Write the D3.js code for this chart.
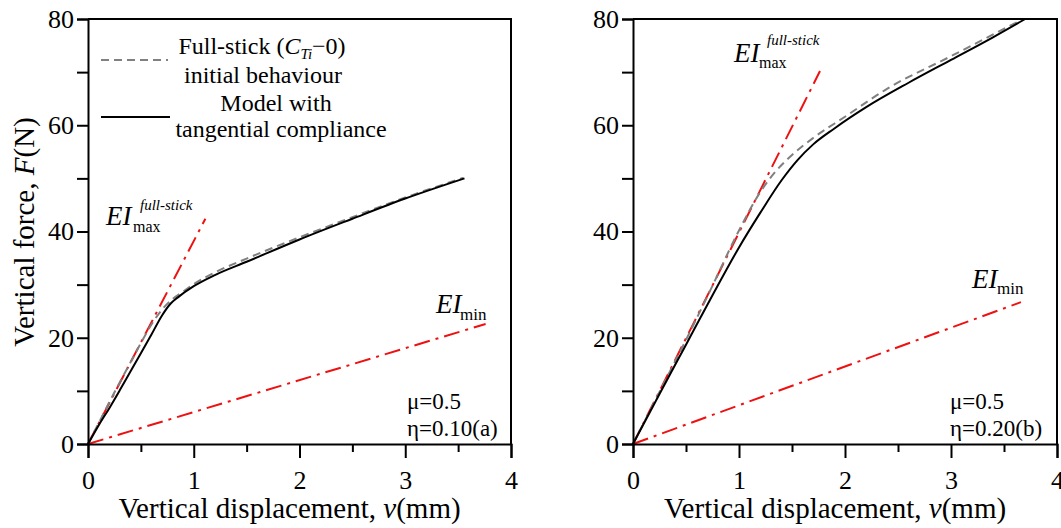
<!DOCTYPE html>
<html>
<head>
<meta charset="utf-8">
<script src="https://cdn.jsdelivr.net/npm/d3@7"></script>
<style>
body { margin: 0; background: #fff; }
</style>
</head>
<body>
<script>
// axis ticks
var xTicks = [0, 1, 2, 3, 4];
var xMinor = [0.5, 1.5, 2.5, 3.5];
var yTicks = [0, 20, 40, 60, 80];
var yMinor = [10, 30, 50, 70];

// panel (a), eta = 0.10 : [v (mm), F (N)]
var fullStickA = [[0,0],[0.1,3.9],[0.2,7.8],[0.3,11.6],[0.4,15.3],[0.5,19],[0.6,22.5],[0.7,25.3],[0.8,27.3],[0.9,28.7],[1.0,30.1],[1.2,32.3],[1.5,34.9],[2.0,38.9],[2.5,42.7],[3.0,46.4],[3.55,50.1]];
var modelA = [[0,0],[0.1,3.5],[0.2,6.7],[0.3,10.1],[0.4,13.6],[0.5,17.1],[0.6,20.6],[0.7,24.2],[0.78,26.4],[0.85,27.6],[1.0,29.7],[1.2,31.8],[1.5,34.3],[2.0,38.5],[2.5,42.4],[3.0,46.2],[3.56,50]];
var eiMaxA = [[0,0],[1.11,42.4]];
var eiMinA = [[0,0],[3.76,22.6]];

// panel (b), eta = 0.20
var fullStickB = [[0,0],[0.25,9.8],[0.5,19.6],[0.75,29.8],[1.0,40.2],[1.2,47.4],[1.35,51.4],[1.5,54.4],[1.7,57.6],[2.0,61.6],[2.4,66.9],[3.0,73],[3.68,80]];
var modelB = [[0,0],[0.25,9.4],[0.5,18.7],[0.75,28],[1.0,37],[1.2,43.5],[1.4,49.6],[1.55,53.4],[1.7,56.4],[1.9,59.4],[2.2,63.4],[2.6,68],[3.0,72.3],[3.4,76.6],[3.7,80]];
var eiMaxB = [[0,0],[1.764,70.2]];
var eiMinB = [[0,0],[3.66,26.7]];

var muLabel = "\u03bc=0.5";
var etaLabels = ["\u03b7=0.10(a)", "\u03b7=0.20(b)"];

var W = 1061, H = 528;
var FONT = "'Liberation Serif', 'Times New Roman', serif";
var RED = "#ee1111";
var svg = d3.select("body").append("svg")
    .attr("width", W)
    .attr("height", H)
    .attr("font-family", FONT);

var panels = [
    {left: 88, right: 511, stick: fullStickA, model: modelA, eiMax: eiMaxA, eiMin: eiMinA, eta: etaLabels[0],
     textX: 407, maxLab: [106, 225, 133, 232, 140, 210], minLab: [436, 313, 460, 320]},
    {left: 633, right: 1057, stick: fullStickB, model: modelB, eiMax: eiMaxB, eiMin: eiMinB, eta: etaLabels[1],
     textX: 950, maxLab: [734, 62, 759, 68, 767, 45], minLab: [972, 288, 997, 294]}
];
var yTop = 19, yBottom = 444;

panels.forEach(function(p, i) {
    var x = d3.scaleLinear().domain([0, 4]).range([p.left, p.right]);
    var y = d3.scaleLinear().domain([0, 80]).range([yBottom, yTop]);
    var g = svg.append("g");

    var line = d3.line()
        .x(function(d) { return x(d[0]); })
        .y(function(d) { return y(d[1]); });

    // stiffness lines
    [p.eiMin, p.eiMax].forEach(function(d) {
        g.append("path")
            .attr("d", line(d))
            .attr("fill", "none")
            .attr("stroke", RED)
            .attr("stroke-width", 2)
            .attr("stroke-dasharray", "16,6,3,6");
    });

    var smooth = d3.line()
        .x(function(d) { return x(d[0]); })
        .y(function(d) { return y(d[1]); })
        .curve(d3.curveMonotoneX);

    g.append("path")
        .attr("d", smooth(p.stick))
        .attr("fill", "none")
        .attr("stroke", "#808080")
        .attr("stroke-width", 2)
        .attr("stroke-dasharray", "8,5");

    g.append("path")
        .attr("d", smooth(p.model))
        .attr("fill", "none")
        .attr("stroke", "#000")
        .attr("stroke-width", 2);

    // axes
    g.append("g")
        .attr("transform", "translate(0," + yBottom + ")")
        .call(d3.axisBottom(x).tickValues(xTicks).tickSize(14).tickPadding(13).tickFormat(d3.format("d")));
    g.append("g")
        .attr("transform", "translate(0," + yBottom + ")")
        .call(d3.axisBottom(x).tickValues(xMinor).tickSize(8).tickFormat(""))
        .select(".domain").remove();
    g.append("g")
        .attr("transform", "translate(" + p.left + ",0)")
        .call(d3.axisLeft(y).tickValues(yTicks).tickSize(11).tickPadding(3));
    g.append("g")
        .attr("transform", "translate(" + p.left + ",0)")
        .call(d3.axisLeft(y).tickValues(yMinor).tickSize(11).tickFormat(""))
        .select(".domain").remove();

    g.selectAll(".tick line").attr("stroke-width", 2);
    g.selectAll(".domain").attr("stroke-width", 2);
    g.selectAll(".tick text")
        .attr("font-size", 26)
        .attr("fill", "#000");

    // frame top/right
    g.append("path")
        .attr("d", "M" + p.left + "," + yTop + "H" + p.right + "V" + yBottom)
        .attr("fill", "none")
        .attr("stroke", "#000")
        .attr("stroke-width", 2);

    // x title
    var xt = g.append("text")
        .attr("x", (p.left + p.right) / 2 - 10)
        .attr("y", 518)
        .attr("text-anchor", "middle")
        .attr("font-size", 29);
    xt.append("tspan").text("Vertical displacement, ");
    xt.append("tspan").attr("font-style", "italic").text("v");
    xt.append("tspan").text("(mm)");

    // EI labels
    var m = p.maxLab;
    g.append("text").attr("x", m[0]).attr("y", m[1]).attr("font-size", 27).attr("font-style", "italic").text("EI");
    g.append("text").attr("x", m[2]).attr("y", m[3]).attr("font-size", 16).text("max");
    g.append("text").attr("x", m[4]).attr("y", m[5]).attr("font-size", 15).attr("font-style", "italic").text("full-stick");
    var n = p.minLab;
    g.append("text").attr("x", n[0]).attr("y", n[1]).attr("font-size", 27).attr("font-style", "italic").text("EI");
    g.append("text").attr("x", n[2]).attr("y", n[3]).attr("font-size", 17).text("min");

    // parameters
    g.append("text").attr("x", p.textX).attr("y", 409).attr("font-size", 23).text(muLabel);
    g.append("text").attr("x", p.textX).attr("y", 436).attr("font-size", 23).text(p.eta);
});

// y title (left panel only)
var yt = svg.append("text")
    .attr("transform", "translate(34,232) rotate(-90)")
    .attr("text-anchor", "middle")
    .attr("font-size", 29);
yt.append("tspan").text("Vertical force, ");
yt.append("tspan").attr("font-style", "italic").text("F");
yt.append("tspan").text("(N)");

// legend
var lg = svg.append("g");
lg.append("line").attr("x1", 101).attr("x2", 168).attr("y1", 60).attr("y2", 60)
    .attr("stroke", "#808080").attr("stroke-width", 2).attr("stroke-dasharray", "8,5");
lg.append("line").attr("x1", 101).attr("x2", 170).attr("y1", 117).attr("y2", 117)
    .attr("stroke", "#000").attr("stroke-width", 2);

var l1 = lg.append("text").attr("x", 262).attr("y", 54).attr("text-anchor", "middle").attr("font-size", 24);
l1.append("tspan").text("Full-stick (");
l1.append("tspan").attr("font-style", "italic").text("C");
l1.append("tspan").attr("font-style", "italic").attr("font-size", 15).attr("dy", 5).text("Ti");
l1.append("tspan").attr("dy", -5).text("\u22120)");
lg.append("text").attr("x", 263).attr("y", 83).attr("text-anchor", "middle").attr("font-size", 24).text("initial behaviour");
lg.append("text").attr("x", 276).attr("y", 111).attr("text-anchor", "middle").attr("font-size", 24).text("Model with");
lg.append("text").attr("x", 281).attr("y", 137).attr("text-anchor", "middle").attr("font-size", 24).text("tangential compliance");

svg.selectAll("text").attr("font-family", FONT);
</script>
</body>
</html>
